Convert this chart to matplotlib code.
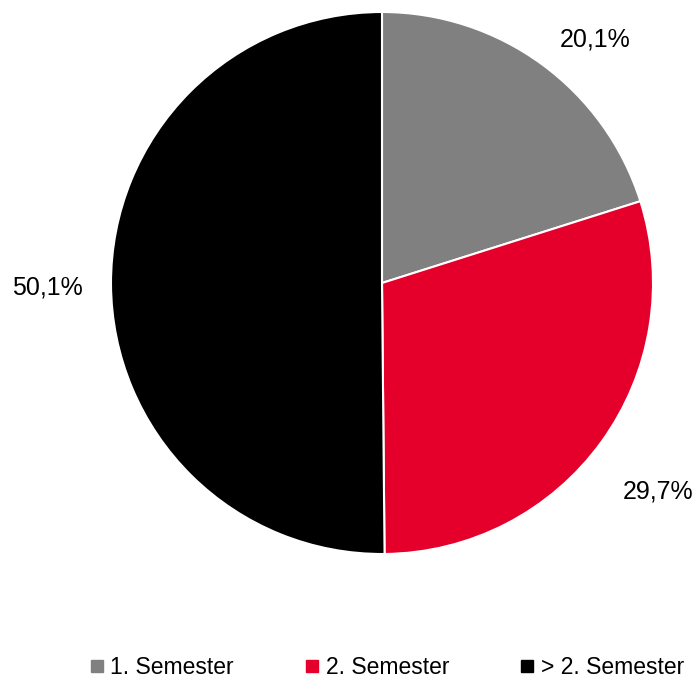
import matplotlib
matplotlib.use("Agg")
import matplotlib.pyplot as plt
from matplotlib.lines import Line2D
import numpy as np

categories = ["1. Semester", "2. Semester", "> 2. Semester"]
values = [20.1, 29.7, 50.1]
labels = ["20,1%", "29,7%", "50,1%"]
colors = ["#808080", "#E4002B", "#000000"]

plt.rcParams['font.family'] = ['Liberation Sans', 'DejaVu Sans']

W, H = 699, 684
fig = plt.figure(figsize=(W / 100, H / 100), dpi=100)
cx, cy, r = 382, 283, 271
ax = fig.add_axes([(cx - r) / W, (H - cy - r) / H, 2 * r / W, 2 * r / H])
wedges, _ = ax.pie(values, colors=colors, startangle=90, counterclock=False,
                   radius=1, wedgeprops=dict(edgecolor="white", linewidth=1.5))
ax.set_xlim(-1, 1)
ax.set_ylim(-1, 1)
ax.set_aspect("equal")

# label offsets (layout) relative to pie center, in radius units
label_pos = [(0.786, 0.897), (1.018, -0.771), (-1.236, -0.015)]
for (x, y), t in zip(label_pos, labels):
    ax.text(x, y, t, ha="center", va="center", fontsize=18, color="black", clip_on=False)

handles = [Line2D([0], [0], marker="s", color="none", markerfacecolor=c,
                  markeredgecolor=c, markersize=8) for c in colors]
fig.legend(handles, categories, loc="center", bbox_to_anchor=(387 / W, 1 - 668 / H),
           ncol=3, frameon=False, fontsize=16.5, handlelength=0.6, handletextpad=0.3,
           columnspacing=3.1)

fig.savefig("out.png", dpi=100)
